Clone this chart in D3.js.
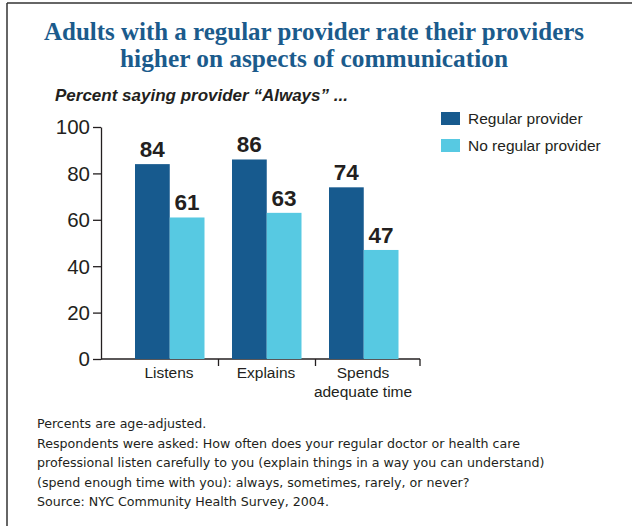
<!DOCTYPE html>
<html>
<head>
<meta charset="utf-8">
<script src="https://cdn.jsdelivr.net/npm/d3@7"></script>
<style>
  html, body { margin: 0; padding: 0; background: #fff; }
  svg { display: block; }
</style>
</head>
<body>
<svg id="chart" width="632" height="526"></svg>
<script>
const categories = ["Listens", "Explains", "Spends adequate time"];
const categoryLines = [["Listens"], ["Explains"], ["Spends", "adequate time"]];
const seriesNames = ["Regular provider", "No regular provider"];
const regularValues = [84, 86, 74];
const noRegularValues = [61, 63, 47];
const yTicks = [0, 20, 40, 60, 80, 100];
const titleLines = ["Adults with a regular provider rate their providers", "higher on aspects of communication"];
const subtitle = "Percent saying provider \u201CAlways\u201D ...";
const footnotes = [
  "Percents are age-adjusted.",
  "Respondents were asked: How often does your regular doctor or health care",
  "professional listen carefully to you (explain things in a way you can understand)",
  "(spend enough time with you): always, sometimes, rarely, or never?",
  "Source: NYC Community Health Survey, 2004."
];
const colors = ["#175a8e", "#57c9e2"];

const svg = d3.select("#chart");
const ink = "#231f20";
const sans = "'Liberation Sans', Arial, sans-serif";

// frame (top and left edges visible)
svg.append("line").attr("x1", 7).attr("x2", 632).attr("y1", 3).attr("y2", 3).attr("stroke", "#333").attr("stroke-width", 1.5);
svg.append("line").attr("x1", 7).attr("x2", 7).attr("y1", 3).attr("y2", 526).attr("stroke", "#333").attr("stroke-width", 1.5);

// title
const titleY = [40, 67];
const titleWidths = [540, 388];
titleLines.forEach((t, i) => {
  svg.append("text")
    .attr("x", 314).attr("y", titleY[i])
    .attr("text-anchor", "middle")
    .attr("font-family", "'Liberation Serif', 'DejaVu Serif', serif")
    .attr("font-weight", "bold")
    .attr("font-size", 25)
    .attr("fill", "#1b5b8c")
    .attr("textLength", titleWidths[i])
    .attr("lengthAdjust", "spacingAndGlyphs")
    .text(t);
});

// subtitle
svg.append("text")
  .attr("x", 55).attr("y", 101)
  .attr("font-family", sans)
  .attr("font-weight", "bold").attr("font-style", "italic")
  .attr("font-size", 17).attr("fill", ink)
  .text(subtitle);

// scales
const y = d3.scaleLinear().domain([0, 100]).range([359, 127]);
const x0 = d3.scaleBand().domain(categories).range([121.5, 412.5]).paddingInner(0).paddingOuter(0);
const x1 = d3.scaleBand().domain(seriesNames).range([13.5, 83]).padding(0);

// y axis
const yAxis = d3.axisLeft(y).tickValues(yTicks).tickSize(8).tickPadding(3).tickSizeOuter(0);
const gy = svg.append("g").attr("transform", "translate(101,0)").call(yAxis);
gy.select(".domain").attr("stroke", ink).attr("stroke-width", 1.3);
gy.selectAll(".tick line").attr("stroke", ink).attr("stroke-width", 1.3);
gy.selectAll(".tick text")
  .attr("font-family", sans)
  .attr("font-size", 20.5).attr("fill", ink).attr("dy", "0.34em");

// x axis line
svg.append("line").attr("x1", 101).attr("x2", 420).attr("y1", y(0)).attr("y2", y(0))
  .attr("stroke", ink).attr("stroke-width", 1.3);
const tickXs = [x0(categories[1]), x0(categories[2]), 420];
svg.selectAll(".xtick").data(tickXs).enter().append("line")
  .attr("x1", d => d).attr("x2", d => d).attr("y1", y(0)).attr("y2", y(0) + 7)
  .attr("stroke", ink).attr("stroke-width", 1.3);

// category labels
categories.forEach((c, i) => {
  const cx = x0(c) + x0.bandwidth() / 2 - 1;
  const t = svg.append("text")
    .attr("x", cx)
    .attr("y", 378)
    .attr("text-anchor", "middle")
    .attr("font-family", sans)
    .attr("font-size", 15.5).attr("fill", ink);
  categoryLines[i].forEach((ln, j) => {
    t.append("tspan").attr("x", cx).attr("dy", j === 0 ? 0 : 18.5).text(ln);
  });
});

// bars
const rows = categories.map((c, i) => ({ cat: c, vals: [regularValues[i], noRegularValues[i]] }));
const groups = svg.selectAll(".grp").data(rows).enter().append("g")
  .attr("transform", d => `translate(${x0(d.cat)},0)`);
groups.selectAll("rect").data(d => d.vals.map((v, k) => ({ s: seriesNames[k], v, k }))).enter().append("rect")
  .attr("x", d => x1(d.s))
  .attr("y", d => y(d.v))
  .attr("width", x1.bandwidth())
  .attr("height", d => y(0) - y(d.v))
  .attr("fill", d => colors[d.k]);
groups.selectAll(".val").data(d => d.vals.map((v, k) => ({ s: seriesNames[k], v, k }))).enter().append("text")
  .attr("x", d => x1(d.s) + x1.bandwidth() / 2)
  .attr("y", d => y(d.v) - 7)
  .attr("text-anchor", "middle")
  .attr("font-family", sans)
  .attr("font-weight", "bold").attr("font-size", 22.5).attr("fill", ink)
  .text(d => d.v);

// legend
const legY = [112, 139];
seriesNames.forEach((s, i) => {
  svg.append("rect").attr("x", 441).attr("y", legY[i]).attr("width", 19).attr("height", 13).attr("fill", colors[i]);
  svg.append("text").attr("x", 468).attr("y", legY[i] + 11.5)
    .attr("font-family", sans)
    .attr("font-size", 15.5).attr("fill", ink).text(s);
});

// footnotes
footnotes.forEach((f, i) => {
  svg.append("text").attr("x", 37).attr("y", 428 + i * 19.5)
    .attr("font-family", "'DejaVu Sans', Verdana, sans-serif")
    .attr("font-size", 12.65).attr("fill", ink).text(f);
});
</script>
</body>
</html>
